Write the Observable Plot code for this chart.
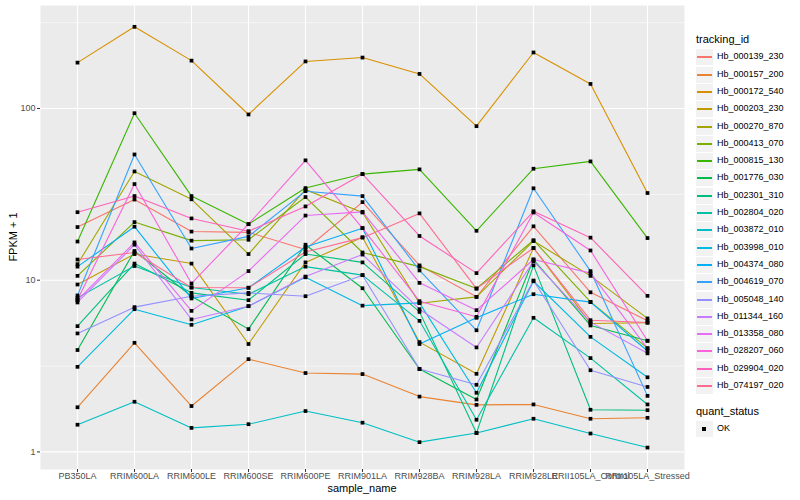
<!DOCTYPE html>
<html><head><meta charset="utf-8">
<script src="https://cdn.jsdelivr.net/npm/d3@7"></script>
<script src="https://cdn.jsdelivr.net/npm/@observablehq/plot@0.6"></script>
<style>
body{margin:0;background:#fff;font-family:"Liberation Sans",Arial,sans-serif;}
#wrap{position:relative;width:800px;height:500px;overflow:hidden;}
.t{position:absolute;white-space:nowrap;color:#000;}
</style></head><body><div id="wrap"></div>
<script>
const samples = ["PB350LA","RRIM600LA","RRIM600LE","RRIM600SE","RRIM600PE","RRIM901LA","RRIM928BA","RRIM928LA","RRIM928LE","RRII105LA_Control","RRII105LA_Stressed"];
const trackingIds = ["Hb_000139_230","Hb_000157_200","Hb_000172_540","Hb_000203_230","Hb_000270_870","Hb_000413_070","Hb_000815_130","Hb_001776_030","Hb_002301_310","Hb_002804_020","Hb_003872_010","Hb_003998_010","Hb_004374_080","Hb_004619_070","Hb_005048_140","Hb_011344_160","Hb_013358_080","Hb_028207_060","Hb_029904_020","Hb_074197_020"];
const palette = ["#F8766D","#EA8331","#D89000","#C09B00","#A3A500","#7CAE00","#39B600","#00BB4E","#00BF7D","#00C1A3","#00BFC4","#00BAE0","#00B0F6","#35A2FF","#9590FF","#C77CFF","#E76BF3","#FA62DB","#FF62BC","#FF6C91"];
const yTicks = [1, 10, 100];
const yMinor = [3.162, 31.62, 316.2];

// FPKM + 1 per sample (order of samples)
const Hb_000139_230 = [20.4, 29.5, 19.2, 19.0, 15.1, 28.5, 12.2, 8.0, 20.6, 8.5, 5.8];
const Hb_000157_200 = [1.82, 4.32, 1.85, 3.47, 2.88, 2.84, 2.10, 1.88, 1.89, 1.56, 1.58];
const Hb_000172_540 = [185, 299, 190, 92.3, 188, 198, 159, 78.9, 212, 139, 32.2];
const Hb_000203_230 = [9.44, 14.2, 12.5, 4.25, 12.7, 17.8, 4.36, 2.85, 15.4, 5.6, 5.65];
const Hb_000270_870 = [12.4, 43, 29.6, 14.2, 33.7, 24.8, 7.35, 8.0, 16.9, 10.6, 5.99];
const Hb_000413_070 = [10.6, 21.8, 17.0, 17.2, 30.5, 14.5, 12.0, 8.95, 17.1, 7.48, 4.02];
const Hb_000815_130 = [16.8, 93.9, 30.9, 21.2, 34.4, 41.5, 44.2, 19.4, 44.6, 49.2, 17.6];
const Hb_001776_030 = [3.92, 14.8, 8.07, 5.19, 16.1, 8.98, 3.04, 2.02, 13.2, 5.45, 4.44];
const Hb_002301_310 = [5.4, 12.5, 8.44, 7.65, 14.2, 12.7, 6.54, 1.29, 12.2, 1.76, 1.75];
const Hb_002804_020 = [7.89, 12.1, 9.07, 8.29, 12.0, 10.7, 5.8, 1.54, 6.04, 3.52, 1.89];
const Hb_003872_010 = [1.44, 1.96, 1.38, 1.45, 1.73, 1.48, 1.14, 1.29, 1.56, 1.28, 1.06];
const Hb_003998_010 = [3.13, 6.78, 5.5, 7.06, 10.4, 7.11, 7.38, 2.21, 9.86, 4.68, 2.72];
const Hb_004374_080 = [12.0, 20.5, 7.83, 9.04, 15.6, 20.1, 4.25, 6.04, 8.29, 7.45, 3.87];
const Hb_004619_070 = [8.15, 54, 15.3, 18.0, 33.0, 30.9, 11.4, 5.11, 34.3, 11.3, 2.12];
const Hb_005048_140 = [4.9, 6.97, 8.07, 8.44, 8.07, 10.7, 3.04, 2.46, 9.96, 2.99, 2.39];
const Hb_011344_160 = [7.42, 16.1, 5.91, 7.06, 10.5, 14.1, 6.78, 4.06, 12.9, 5.7, 3.75];
const Hb_013358_080 = [7.65, 16.6, 6.63, 11.3, 23.8, 25.0, 9.65, 6.69, 13.2, 11.0, 4.01];
const Hb_028207_060 = [7.7, 36.3, 9.57, 21.2, 49.9, 20.1, 7.55, 6.12, 24.8, 14.9, 4.44];
const Hb_029904_020 = [24.9, 30.9, 22.9, 19.3, 26.9, 41.5, 18.1, 11.0, 25.2, 17.7, 8.11];
const Hb_074197_020 = [13.2, 14.5, 9.07, 9.04, 14.6, 17.7, 24.5, 8.93, 15.4, 5.85, 5.67];

const seriesValues = [Hb_000139_230, Hb_000157_200, Hb_000172_540, Hb_000203_230, Hb_000270_870, Hb_000413_070, Hb_000815_130, Hb_001776_030, Hb_002301_310, Hb_002804_020, Hb_003872_010, Hb_003998_010, Hb_004374_080, Hb_004619_070, Hb_005048_140, Hb_011344_160, Hb_013358_080, Hb_028207_060, Hb_029904_020, Hb_074197_020];

const rows = [];
trackingIds.forEach((id, i) => {
  seriesValues[i].forEach((v, j) => rows.push({sample: samples[j], id, value: v, status: "OK"}));
});

const chart = Plot.plot({
  width: 800, height: 500,
  marginLeft: 40, marginRight: 116, marginTop: 5, marginBottom: 31,
  style: {background: "white", fontFamily: "'Liberation Sans', Arial, sans-serif", overflow: "visible"},
  x: {type: "point", domain: samples, padding: 0.6},
  y: {type: "log", domain: [0.79, 398]},
  color: {domain: trackingIds, range: palette},
  marks: [
    Plot.frame({fill: "#EBEBEB", stroke: "none"}),
    Plot.gridY(yMinor, {stroke: "white", strokeOpacity: 1, strokeWidth: 0.55}),
    Plot.gridY(yTicks, {stroke: "white", strokeOpacity: 1, strokeWidth: 1.1}),
    Plot.gridX(samples, {stroke: "white", strokeOpacity: 1, strokeWidth: 1.1}),
    Plot.line(rows, {x: "sample", y: "value", z: "id", stroke: "id", strokeWidth: 1.1}),
    Plot.dot(rows, {x: "sample", y: "value", symbol: "square", r: 2.1, fill: "black", stroke: "none"}),
    Plot.axisY(yTicks, {tickFormat: d => String(d), fontSize: 9, tickSize: 3, tickPadding: 2, fill: "#4D4D4D", stroke: "#333", label: null}),
    Plot.axisX(samples, {fontSize: 9, tickSize: 3, tickPadding: 0, fill: "#4D4D4D", stroke: "#333", label: null})
  ]
});

const wrap = document.getElementById("wrap");
wrap.appendChild(chart);

function addText(txt, css) {
  const d = document.createElement("div");
  d.className = "t";
  d.textContent = txt;
  Object.assign(d.style, css);
  wrap.appendChild(d);
  return d;
}
// axis titles
addText("sample_name", {left: "362px", top: "482px", fontSize: "11px", transform: "translateX(-50%)"});
addText("FPKM + 1", {left: "13px", top: "237px", fontSize: "11px", transform: "translate(-50%,-50%) rotate(-90deg)"});

// legend: tracking_id
addText("tracking_id", {left: "696px", top: "33px", fontSize: "11px"});
trackingIds.forEach((id, i) => {
  const cy = Math.round(57.3 + i * 17.3);
  const box = document.createElement("div");
  Object.assign(box.style, {position: "absolute", left: "696px", top: (cy - 8) + "px", width: "17px", height: "16px", background: "#F2F2F2"});
  const ln = document.createElement("div");
  Object.assign(ln.style, {position: "absolute", left: "1px", top: "7px", width: "15px", height: "2px", background: palette[i]});
  box.appendChild(ln);
  wrap.appendChild(box);
  addText(id, {left: "717px", top: (cy - 6) + "px", fontSize: "9px"});
});
// legend: quant_status
addText("quant_status", {left: "696px", top: "405px", fontSize: "11px"});
const qb = document.createElement("div");
Object.assign(qb.style, {position: "absolute", left: "696px", top: "421px", width: "17px", height: "16px", background: "#F2F2F2"});
const qd = document.createElement("div");
Object.assign(qd.style, {position: "absolute", left: "6px", top: "6px", width: "4px", height: "4px", background: "#000"});
qb.appendChild(qd);
wrap.appendChild(qb);
addText("OK", {left: "717px", top: "423px", fontSize: "9px"});
</script></body></html>
